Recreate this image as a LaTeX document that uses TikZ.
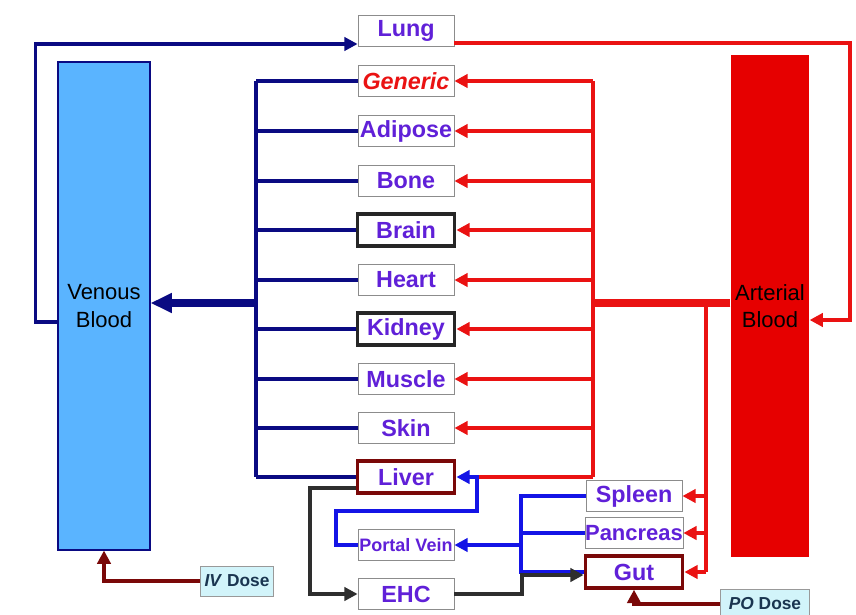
\documentclass[tikz,border=0pt]{standalone}
\usepackage{fontspec}
\setmainfont{Liberation Sans}
\usepackage{tikz}
\usetikzlibrary{arrows.meta, positioning, calc}
\definecolor{venousLine}{HTML}{0A0A82}
\definecolor{portalLine}{HTML}{1414E6}
\definecolor{arterialLine}{HTML}{EA1212}
\definecolor{venousFill}{HTML}{5AB4FF}
\definecolor{arterialFill}{HTML}{E60000}
\definecolor{organText}{HTML}{6020D8}
\definecolor{doseLine}{HTML}{7A0808}
\definecolor{doseFill}{HTML}{D2F4FA}
\definecolor{doseText}{HTML}{1A3550}
\definecolor{ehcLine}{HTML}{2E2E2E}

\begin{document}
\begin{tikzpicture}[
  x=0.75pt, y=-0.75pt,
  organ/.style={draw=black!45, line width=0.6pt, fill=white, inner sep=0pt,
                minimum width=72pt, minimum height=23.5pt, text=organText,
                font=\fontsize{17.5}{19}\selectfont\bfseries},
  keep/.style={organ, draw=black!85, line width=2.6pt, minimum width=73pt, minimum height=24pt},
  gate/.style={organ, draw=doseLine, line width=2.6pt, minimum width=73pt, minimum height=24pt},
  pool/.style={inner sep=0pt, align=center, font=\fontsize{16.5}{20.5}\selectfont},
  dose/.style={draw=black!40, line width=0.6pt, fill=doseFill, inner sep=0pt,
               minimum height=22.5pt, text=doseText, font=\fontsize{13}{15}\selectfont\bfseries},
  tip/.style={-{Triangle[length=10pt, width=10pt]}},
  ven/.style={line width=2.9pt, draw=venousLine},
  art/.style={line width=2.9pt, draw=arterialLine},
  portal/.style={line width=2.9pt, draw=portalLine},
  ehc/.style={line width=2.9pt, draw=ehcLine},
  given/.style={line width=2.9pt, draw=doseLine}
]
\path[fill=white] (0,0) rectangle (856,614);
\useasboundingbox (0,0) rectangle (856,614);

% blood pools
\node[pool, draw=venousLine, line width=0.8pt, fill=venousFill,
      minimum width=69pt, minimum height=366pt] (venous) at (104,306) {Venous\\Blood};
\node[pool, fill=arterialFill,
      minimum width=59pt, minimum height=376pt] (arterial) at (770,306) {Arterial\\Blood};

% tissues
\node[organ] (lung) at (406,31) {Lung};
\node[organ, text=arterialLine, font=\fontsize{17.5}{19}\selectfont\bfseries\itshape] (generic) at (406,81) {Generic};
\node[organ] (adipose) at (406,131) {Adipose};
\node[organ] (bone) at (406,181) {Bone};
\node[keep] (brain) at (406,230) {Brain};
\node[organ] (heart) at (406,280) {Heart};
\node[keep] (kidney) at (406,329) {Kidney};
\node[organ] (muscle) at (406,379) {Muscle};
\node[organ] (skin) at (406,428) {Skin};
\node[gate] (liver) at (406,477) {Liver};
\node[organ, font=\fontsize{13.5}{15}\selectfont\bfseries] (portal) at (406,545) {Portal Vein};
\node[organ] (ehc) at (406,594) {EHC};
\node[organ] (spleen) at (634,496) {Spleen};
\node[organ, font=\fontsize{16.5}{18}\selectfont\bfseries] (pancreas) at (634,533) {Pancreas};
\node[gate] (gut) at (634,572) {Gut};

\node[dose, minimum width=55pt] (iv) at (237,581) {\textit{IV} Dose};
\node[dose, minimum width=67pt] (po) at (765,604) {\textit{PO} Dose};

\coordinate (vbus) at (256,303);
\coordinate (abus) at (593,303);
\coordinate (gbus) at (706,303);
\coordinate (sbus) at (521,545);
\coordinate (pvturn) at (477,511);

% lung loop
\draw[ven, tip] ($(venous.west)+(0,16)$) -- ++(-22,0) |- ($(lung.west)+(0,13)$);
\draw[art, tip] ($(lung.east)+(0,12)$) -- ++(396,0) |- ($(arterial.east)+(0,14)$);

% venous return
\foreach \o in {generic,adipose,bone,brain,heart,kidney,muscle,skin,liver}
  \draw[ven] (\o.west) -- (\o.west -| vbus);
\draw[ven] (generic.west -| vbus) -- (liver.west -| vbus);
\draw[ven, line width=6pt, -{Triangle[length=16pt, width=14pt]}] (vbus) -- (venous.east |- vbus);

% arterial supply
\draw[art, line width=6pt] (arterial.west |- abus) -- (abus);
\draw[art] (abus |- generic.east) -- (abus |- liver.east);
\foreach \o in {generic,adipose,bone,brain,heart,kidney,muscle,skin}
  \draw[art, tip] (abus |- \o.east) -- (\o.east);
\draw[art] (abus |- liver.east) -- (pvturn |- liver.east);
\draw[art] (gbus) -- (gbus |- gut.east);
\foreach \o in {spleen,pancreas,gut}
  \draw[art, tip] (gbus |- \o.east) -- (\o.east);

% splanchnic
\draw[portal] (spleen.west) -| (sbus |- gut.west) -- (gut.west);
\draw[portal] (pancreas.west) -- (pancreas.west -| sbus);
\draw[portal, tip] (sbus) -- (portal.east);
\draw[portal, tip] (portal.west) -- ++(-22,0) |- (pvturn) |- (liver.east);

% enterohepatic
\draw[ehc, tip] ($(liver.west)+(0,11)$) -- ++(-46,0) |- (ehc.west);
\draw[ehc, tip] (ehc.east) -- ++(68,0) |- ($(gut.west)+(0,3)$);

% dosing
\draw[given, tip] (iv.west) -| (venous.south);
\draw[given, tip] (po.west) -| (gut.south);
\end{tikzpicture}
\end{document}
